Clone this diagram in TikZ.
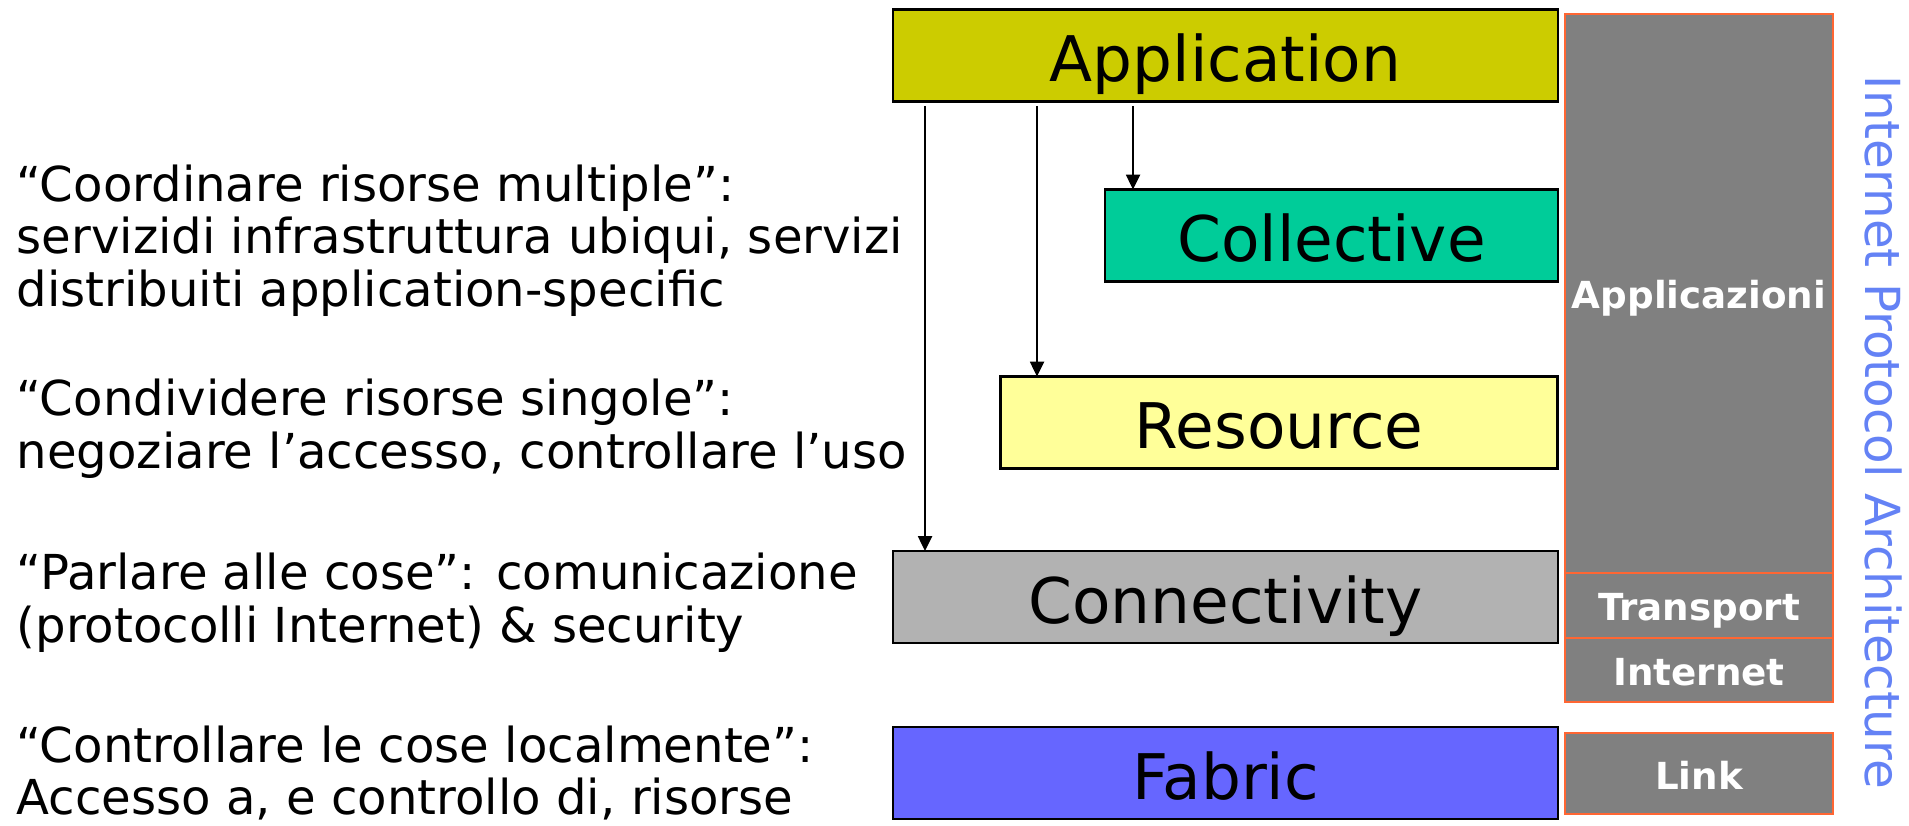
\documentclass[tikz,border=0pt]{standalone}
\usepackage{fontspec}
\setmainfont{DejaVu Sans}
\usetikzlibrary{arrows.meta}

\definecolor{appcol}{RGB}{204,204,0}
\definecolor{collcol}{RGB}{0,204,153}
\definecolor{rescol}{RGB}{255,255,153}
\definecolor{conncol}{RGB}{178,178,178}
\definecolor{fabcol}{RGB}{102,102,255}
\definecolor{ipgray}{RGB}{128,128,128}
\definecolor{iporange}{RGB}{255,102,51}
\definecolor{ipblue}{RGB}{100,130,245}

\tikzset{
  layer/.style={draw=black,line width=0.8pt,inner sep=0pt,outer sep=0pt,
                minimum height=0.92cm,text height=0.53cm,text depth=0pt,
                font=\fontsize{17.9pt}{20pt}\selectfont},
  iplayer/.style={draw=iporange,line width=0.6pt,fill=ipgray,text=white,inner sep=0pt,
                outer sep=0pt,minimum width=2.68cm,text height=0.31cm,text depth=0pt,
                font=\fontsize{10.6pt}{12pt}\bfseries},
  note/.style={anchor=west,align=left,inner sep=0pt,font=\fontsize{13.7pt}{15pt}\selectfont},
  flow/.style={line width=0.45pt,-{Triangle[length=4.2pt,width=4pt]}}
}

\begin{document}
\begin{tikzpicture}
  \useasboundingbox (0,0) rectangle (19.09,8.26);

% descriptions at left
  \node[note] (ncoll) at (0.16,5.855) {“Coordinare risorse multiple”:\\servizidi infrastruttura ubiqui, servizi\\distribuiti application-specific};
  \node[note] (nres)  at (0.16,3.97) {“Condividere risorse singole”:\\negoziare l’accesso, controllare l’uso};
  \node[note] (nconn) at (0.16,2.235) {“Parlare alle cose”: comunicazione\\(protocolli Internet) \& security};
  \node[note] (nfab)  at (0.16,0.53) {“Controllare le cose localmente”:\\Accesso a, e controllo di, risorse};

% grid layers
  \node[layer,fill=appcol,minimum width=6.65cm]   (app)  at (12.255,7.705) {Application};
  \node[layer,fill=collcol,minimum width=4.53cm]  (coll) at (13.315,5.905) {Collective};
  \node[layer,fill=rescol,minimum width=5.575cm]  (res)  at (12.79,4.035) {Resource};
  \node[layer,fill=conncol,minimum width=6.65cm]  (conn) at (12.255,2.29) {Connectivity};
  \node[layer,fill=fabcol,minimum width=6.65cm]   (fab)  at (12.255,0.53) {Fabric};

% arrows from the application
  \coordinate (a1) at (9.25,7.20);
  \coordinate (a2) at (10.37,7.20);
  \coordinate (a3) at (11.33,7.20);
  \draw[flow] (a1) -- (a1 |- conn.north);
  \draw[flow] (a2) -- (a2 |- res.north);
  \draw[flow] (a3) -- (a3 |- coll.north);

% internet protocol stack
  \node[iplayer,minimum height=5.59cm] (ipapp)  at (16.99,5.325) {Applicazioni};
  \node[iplayer,minimum height=0.65cm] (iptran) at (16.99,2.205) {Transport};
  \node[iplayer,minimum height=0.64cm] (ipnet)  at (16.99,1.56) {Internet};
  \node[iplayer,minimum height=0.81cm] (iplink) at (16.99,0.525) {Link};

  \node[rotate=-90,text=ipblue,inner sep=0pt,font=\fontsize{13.75pt}{15pt}\selectfont]
    (iparch) at (18.83,3.935) {Internet Protocol Architecture};

\end{tikzpicture}
\end{document}
